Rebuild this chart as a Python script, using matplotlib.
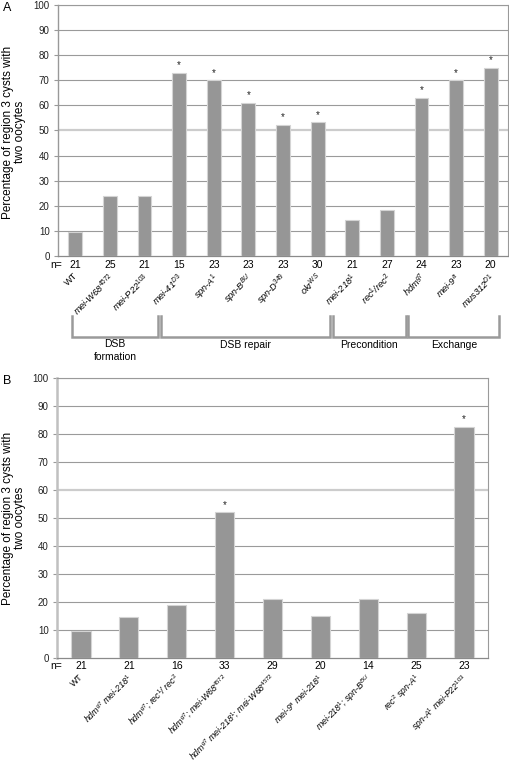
import matplotlib
matplotlib.use("Agg")
import matplotlib.pyplot as plt
from matplotlib.transforms import blended_transform_factory

plt.rcParams['font.family'] = ['Liberation Sans', 'DejaVu Sans']
plt.rcParams['mathtext.fontset'] = 'custom'
plt.rcParams['mathtext.rm'] = 'Liberation Sans'
plt.rcParams['mathtext.it'] = 'Liberation Sans:italic'
plt.rcParams['mathtext.default'] = 'it'

# ---------------- data ----------------
labels_a = ["WT", "mei-W68$^{4572}$", "mei-P22$^{103}$", "mei-41$^{D3}$", "spn-A$^{1}$",
            "spn-B$^{BU}$", "spn-D$^{349}$", "okr$^{WS}$", "mei-218$^{1}$", "rec$^{1}$/rec$^{2}$",
            "hdm$^{g7}$", "mei-9$^{a}$", "mus312$^{D1}$"]
values_a = [9.5, 24, 24, 73, 70, 61, 52.3, 53.3, 14.3, 18.5, 63, 70, 75]
n_a = [21, 25, 21, 15, 23, 23, 23, 30, 21, 27, 24, 23, 20]
sig_a = [False, False, False, True, True, True, True, True, False, False, True, True, True]
groups_a = ["DSB\nformation", "DSB repair", "Precondition", "Exchange"]

labels_b = ["WT", "hdm$^{g7}$ mei-218$^{1}$", "hdm$^{g7}$; rec$^{1}$/ rec$^{2}$",
            "hdm$^{g7}$; mei-W68$^{4572}$", "hdm$^{g7}$ mei-218$^{1}$; mei-W68$^{4572}$",
            "mei-9$^{a}$ mei-218$^{1}$", "mei-218$^{1}$; spn-B$^{BU}$", "rec$^{2}$ spn-A$^{1}$",
            "spn-A$^{1}$ mei-P22$^{103}$"]
values_b = [9.5, 14.5, 19, 52, 21, 15, 21.2, 16, 82.5]
n_b = [21, 21, 16, 33, 29, 20, 14, 25, 23]
sig_b = [False, False, False, True, False, False, False, False, True]

ylabel = "Percentage of region 3 cysts with\ntwo oocytes"
yticks = list(range(0, 101, 10))

W, H = 510, 765
fig = plt.figure(figsize=(W / 100, H / 100), dpi=100)

BAR = "#969696"
GRID = "#9a9a9a"


def fy(py):
    return 1 - py / H


def panel(rect, labels, values, ns, sig, n_py, lab_py, lab_dx, lab_fs, letter, letter_py, ylab_py,
          light_line, spine_col, spine_w):
    ax = fig.add_axes(rect)
    x = list(range(len(values)))
    ax.bar(x, values, width=0.4, color=BAR, edgecolor="#d4d4d4", linewidth=0.8, zorder=3)
    ax.set_xlim(-0.5, len(values) - 0.5)
    ax.set_ylim(0, 100)
    ax.set_yticks(yticks)
    ax.set_yticklabels([str(t) for t in yticks], fontsize=7, color="#222222")
    for t in yticks[1:]:
        if t == light_line:
            ax.axhline(t, color="#cccccc", linewidth=1.6, zorder=0)
        else:
            ax.axhline(t, color=GRID, linewidth=0.8, zorder=0)
    ax.set_xticks([])
    ax.tick_params(axis='y', length=3, width=0.8, color="#999999", pad=3)
    ax.spines['left'].set_color(spine_col)
    ax.spines['left'].set_linewidth(spine_w)
    ax.spines['bottom'].set_color("#8a8a8a")
    ax.spines['bottom'].set_linewidth(0.9)
    ax.spines['right'].set_color(GRID)
    ax.spines['right'].set_linewidth(0.8)
    ax.spines['top'].set_color(GRID)
    ax.spines['top'].set_linewidth(0.8)
    for xi, v, s in zip(x, values, sig):
        if s:
            ax.text(xi, v + 1.0, "*", ha='center', va='bottom', fontsize=7, color="#222222")
    tr = blended_transform_factory(ax.transData, fig.transFigure)
    fig.text(50 / W, fy(n_py), "n=", ha='left', va='center', fontsize=7.5)
    for xi, n in zip(x, ns):
        ax.text(xi, fy(n_py), str(n), transform=tr, ha='center', va='center', fontsize=7.5)
    for xi, lab in zip(x, labels):
        style = 'normal' if lab == "WT" else 'italic'
        ax.text(xi + lab_dx, fy(lab_py), lab, transform=tr, ha='right', va='top',
                rotation=45, rotation_mode='anchor', fontsize=lab_fs, fontstyle=style)
    fig.text(3 / W, fy(letter_py), letter, ha='left', va='center', fontsize=9)
    fig.text(14 / W, fy(ylab_py), ylabel, ha='center', va='center', rotation=90,
             fontsize=8.5, linespacing=1.0)
    return ax, tr


axA, trA = panel([58 / W, fy(256), 450 / W, 251 / H], labels_a, values_a, n_a, sig_a,
                 265, 271, -0.06, 6.7, "A", 8, 132, 50, "#999999", 1.0)

# group brackets
bracket_top, bracket_bot = 316, 337
edges = [(-0.1, 2.4), (2.47, 7.36), (7.44, 9.54), (9.62, 12.25)]
for (x0, x1) in edges:
    axA.plot([x0, x0, x1, x1], [fy(bracket_top), fy(bracket_bot), fy(bracket_bot), fy(bracket_top)],
             transform=trA, color="#9a9a9a", linewidth=1.8, clip_on=False, solid_joinstyle='miter')
for (x0, x1), g in zip(edges, groups_a):
    if "\n" in g:
        axA.text((x0 + x1) / 2, fy(339), g, transform=trA, ha='center', va='top',
                 fontsize=7.5, linespacing=1.35)
    else:
        axA.text((x0 + x1) / 2, fy(345), g, transform=trA, ha='center', va='center', fontsize=7.5)

axB, trB = panel([57 / W, fy(658), 431 / W, 280 / H], labels_b, values_b, n_b, sig_b,
                 666, 672, -0.05, 6.3, "B", 381, 518, 60, "#c0c0c0", 1.8)

fig.savefig("out.png", dpi=100)
